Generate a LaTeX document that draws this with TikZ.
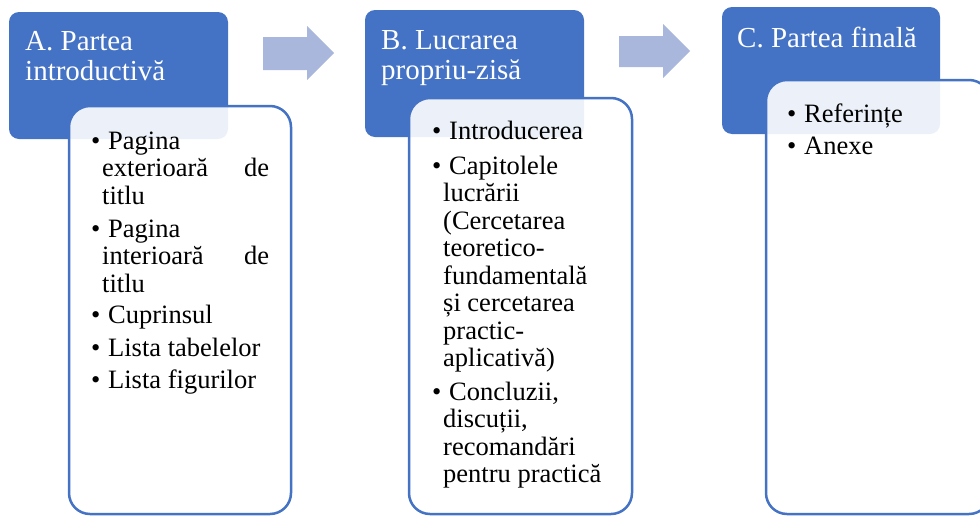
\documentclass[tikz,border=0pt]{standalone}
\usepackage{fontspec}
\setmainfont{Liberation Serif}
\definecolor{hdr}{HTML}{4472C4}
\definecolor{arr}{HTML}{A9B7DC}
\newcommand\bul[1]{\hbox{\makebox[17pt][l]{\textbullet}#1}}
\newcommand\cnt[1]{\hbox{\hspace{11pt}#1}}
\newcommand\lines[1]{\vtop{\lineskiplimit=-100pt\relax #1}}
\begin{document}
\begin{tikzpicture}[x=1pt,y=-1pt,
  header/.style={draw=none, fill=hdr, rounded corners=10pt},
  listbox/.style={draw=hdr, line width=2.5pt, fill=white, fill opacity=0.9, rounded corners=21pt},
  htext/.style={anchor=base west, inner sep=0pt, text=white, font=\fontsize{29}{30}\selectfont},
  ltext/.style={anchor=base west, inner sep=0pt, font=\fontsize{26.5}{27.5}\selectfont},
  blockarrow/.style={fill=arr, draw=none}]
\useasboundingbox (0,0) rectangle (980,517);
% headers
\path[header] (9,12) rectangle (228,139);
\path[header] (365,10) rectangle (584,137);
\path[header] (722,7) rectangle (940,134);
\coordinate (hA) at (118.5,75.5);
\coordinate (hB) at (474.5,73.5);
\coordinate (hC) at (831,70.5);
\node[htext] (tA1) at (25,50.5) {A. Partea};
\node[htext] (tA2) at (25,80.5) {introductivă};
\node[htext] (tB1) at (381,49) {B. Lucrarea};
\node[htext] (tB2) at (381,79.5) {propriu-zisă};
\node[htext] (tC1) at (737,47) {C. Partea finală};
% arrows
\path[blockarrow] (263,37) -- (307,37) -- (307,26) -- (334,53) -- (307,80) -- (307,70) -- (263,70) -- cycle;
\path[blockarrow] (619,36) -- (663,36) -- (663,24) -- (690,51) -- (663,78) -- (663,67) -- (619,67) -- cycle;
% list boxes
\path[listbox] (69,106) rectangle (291,514);
\path[listbox] (409,98) rectangle (632,514);
\path[listbox] (766,80) rectangle (990,514);
% list A
\node[ltext] (a1) at (91,149) {\lines{\bul{Pagina}\cnt{\hbox to 167pt{exterioară\hfill de}}\cnt{titlu}}};
\node[ltext] (a2) at (91,237) {\lines{\bul{Pagina}\cnt{\hbox to 167pt{interioară\hfill de}}\cnt{titlu}}};
\node[ltext] (a3) at (91,323) {\lines{\bul{Cuprinsul}}};
\node[ltext] (a4) at (91,356) {\lines{\bul{Lista tabelelor}}};
\node[ltext] (a5) at (91,388) {\lines{\bul{Lista figurilor}}};
% list B
\node[ltext] (b1) at (432,139) {\lines{\bul{Introducerea}}};
\node[ltext] (b2) at (432,174) {\lines{\bul{Capitolele}\cnt{lucrării}\cnt{(Cercetarea}\cnt{teoretico-}\cnt{fundamentală}\cnt{și cercetarea}\cnt{practic-}\cnt{aplicativă)}}};
\node[ltext] (b3) at (432,400) {\lines{\bul{Concluzii,}\cnt{discuții,}\cnt{recomandări}\cnt{pentru practică}}};
% list C
\node[ltext] (c1) at (787,122) {\lines{\bul{Referințe}}};
\node[ltext] (c2) at (787,154) {\lines{\bul{Anexe}}};
\end{tikzpicture}
\end{document}
